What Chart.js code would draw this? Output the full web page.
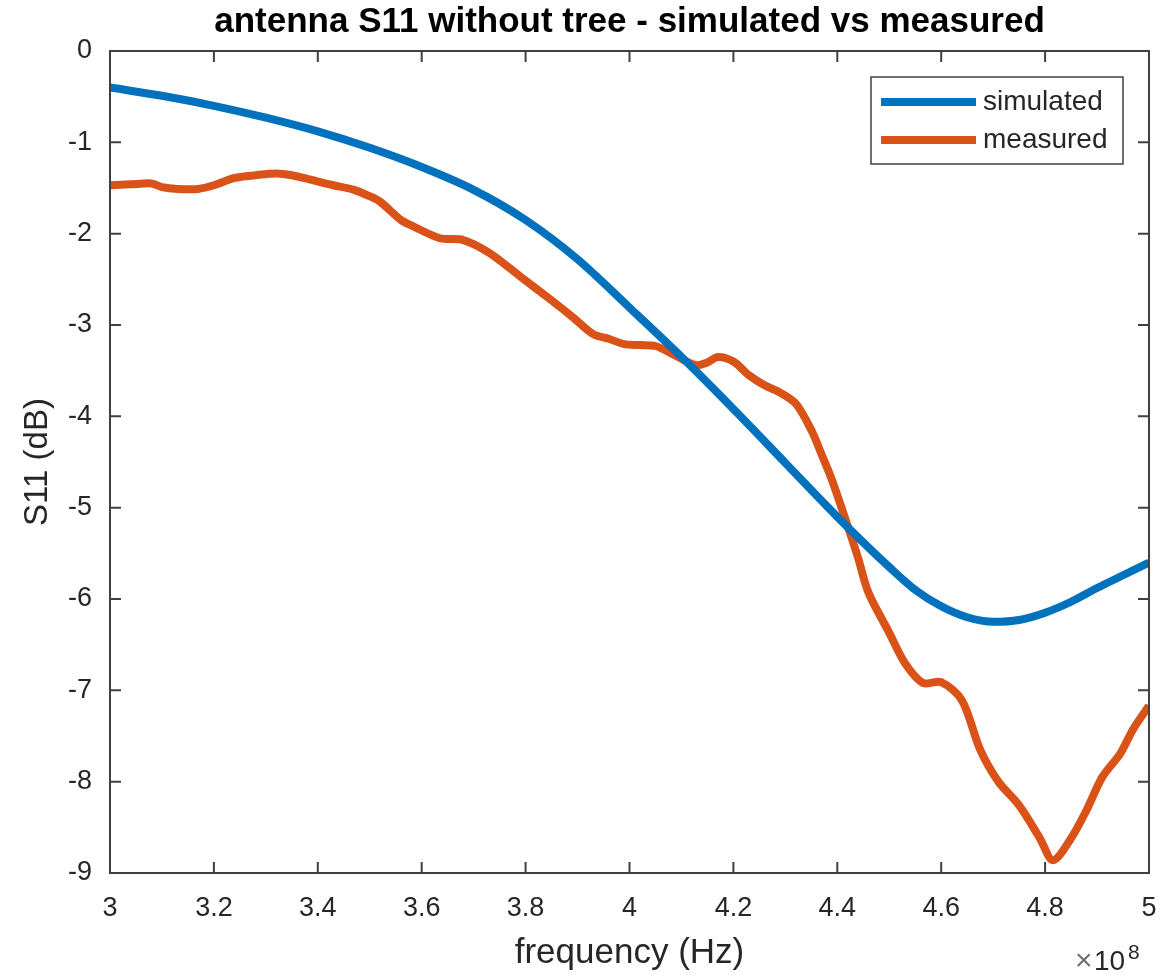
<!DOCTYPE html>
<html>
<head>
<meta charset="utf-8">
<title>antenna S11</title>
<script src="https://cdn.jsdelivr.net/npm/chart.js@4.4.0/dist/chart.umd.min.js"></script>
<style>
  html, body { margin: 0; padding: 0; background: #fff; }
  #wrap { width: 1168px; height: 977px; }
</style>
</head>
<body>
<div id="wrap"><canvas id="s11Chart" width="1168" height="977"></canvas></div>
<script>
// frequency in units of 1e8 Hz
const freqSim = [3.0, 3.1, 3.2, 3.3, 3.4, 3.5, 3.6, 3.7, 3.8, 3.9, 4.0, 4.1, 4.2, 4.3, 4.4, 4.5,
  4.55, 4.6, 4.65, 4.7, 4.75, 4.8, 4.85, 4.9, 4.95, 5.0];
const s11Sim = [-0.40, -0.49, -0.60, -0.73, -0.88, -1.06, -1.27, -1.52, -1.85, -2.28, -2.81, -3.35, -3.92, -4.51, -5.10, -5.65,
  -5.90, -6.08, -6.20, -6.25, -6.23, -6.15, -6.03, -5.88, -5.74, -5.60];

const freqMeas = [3.00, 3.04, 3.08, 3.10, 3.13, 3.17, 3.20, 3.24, 3.28, 3.32, 3.35, 3.38, 3.43, 3.47, 3.50, 3.52,
  3.56, 3.58, 3.635, 3.68, 3.73, 3.79, 3.85, 3.89, 3.93, 3.96, 3.99, 4.02, 4.05, 4.08, 4.11, 4.13,
  4.15, 4.17, 4.20, 4.23, 4.26, 4.29, 4.32, 4.35, 4.37, 4.39, 4.42, 4.44, 4.46, 4.50, 4.53, 4.565,
  4.60, 4.64, 4.675, 4.71, 4.75, 4.79, 4.815, 4.85, 4.88, 4.91, 4.945, 4.97, 5.00];
const s11Meas = [-1.47, -1.46, -1.45, -1.49, -1.51, -1.51, -1.47, -1.39, -1.36, -1.34, -1.36, -1.40, -1.47, -1.52, -1.59, -1.65,
  -1.85, -1.91, -2.05, -2.07, -2.21, -2.47, -2.73, -2.91, -3.10, -3.15, -3.21, -3.22, -3.23, -3.31, -3.40, -3.44,
  -3.41, -3.35, -3.40, -3.55, -3.66, -3.74, -3.86, -4.15, -4.42, -4.70, -5.20, -5.55, -5.93, -6.37, -6.70, -6.92,
  -6.91, -7.11, -7.65, -8.00, -8.26, -8.62, -8.86, -8.62, -8.31, -7.95, -7.69, -7.42, -7.17];

const xTicks = [3, 3.2, 3.4, 3.6, 3.8, 4, 4.2, 4.4, 4.6, 4.8, 5];
const yTicks = [0, -1, -2, -3, -4, -5, -6, -7, -8, -9];

const chartTitle = 'antenna S11 without tree - simulated vs measured';

const FONT = "'Liberation Sans', Arial, sans-serif";
const AXIS_COLOR = '#404040';
const TEXT_COLOR = '#262626';

const toPoints = (xs, ys) => xs.map((x, i) => ({x: x, y: ys[i]}));

// title, box, inward ticks, legend and exponent label in MATLAB style
const matlabAxes = {
  id: 'matlabAxes',
  afterDraw(chart) {
    const ctx = chart.ctx;
    const a = chart.chartArea;
    const xs = chart.scales.x, ys = chart.scales.y;
    const tl = 11;
    ctx.save();

    // title centred over the axes
    ctx.fillStyle = '#000';
    ctx.font = 'bold 35px ' + FONT;
    ctx.textAlign = 'center';
    ctx.textBaseline = 'middle';
    ctx.fillText(chartTitle, (a.left + a.right) / 2, 22);

    ctx.strokeStyle = AXIS_COLOR;
    ctx.lineWidth = 2;
    ctx.strokeRect(a.left, a.top, a.right - a.left, a.bottom - a.top);
    ctx.beginPath();
    xTicks.forEach(v => {
      const px = xs.getPixelForValue(v);
      ctx.moveTo(px, a.bottom); ctx.lineTo(px, a.bottom - tl);
      ctx.moveTo(px, a.top); ctx.lineTo(px, a.top + tl);
    });
    yTicks.forEach(v => {
      const py = ys.getPixelForValue(v);
      ctx.moveTo(a.left, py); ctx.lineTo(a.left + tl, py);
      ctx.moveTo(a.right, py); ctx.lineTo(a.right - tl, py);
    });
    ctx.stroke();

    // legend
    const lx = a.right - 278, ly = a.top + 26, lw = 252, lh = 87;
    ctx.fillStyle = '#fff';
    ctx.fillRect(lx, ly, lw, lh);
    ctx.lineWidth = 1.5;
    ctx.strokeStyle = AXIS_COLOR;
    ctx.strokeRect(lx, ly, lw, lh);
    chart.data.datasets.forEach((ds, i) => {
      const yy = ly + 25 + i * 38;
      ctx.strokeStyle = ds.borderColor;
      ctx.lineWidth = 8;
      ctx.beginPath();
      ctx.moveTo(lx + 10, yy); ctx.lineTo(lx + 105, yy);
      ctx.stroke();
      ctx.fillStyle = TEXT_COLOR;
      ctx.font = '28px ' + FONT;
      ctx.textBaseline = 'middle';
      ctx.textAlign = 'left';
      ctx.fillText(ds.label, lx + 112, yy);
    });

    // x10^8 exponent
    ctx.textBaseline = 'alphabetic';
    ctx.textAlign = 'left';
    ctx.fillStyle = '#707070';
    ctx.font = '30px ' + FONT;
    ctx.fillText('\u00d7', a.right - 74, 970);
    ctx.fillStyle = TEXT_COLOR;
    ctx.font = '28px ' + FONT;
    ctx.fillText('10', a.right - 55, 970);
    ctx.font = '21px ' + FONT;
    ctx.fillText('8', a.right - 21, 959);
    ctx.restore();
  }
};

new Chart(document.getElementById('s11Chart'), {
  type: 'line',
  data: {
    datasets: [
      {
        label: 'simulated',
        data: toPoints(freqSim, s11Sim),
        borderColor: '#0072BD',
        borderWidth: 8,
        pointRadius: 0,
        cubicInterpolationMode: 'monotone'
      },
      {
        label: 'measured',
        data: toPoints(freqMeas, s11Meas),
        borderColor: '#D95319',
        borderWidth: 8,
        pointRadius: 0,
        tension: 0.3
      }
    ]
  },
  options: {
    responsive: false,
    animation: false,
    layout: { padding: { left: 0, right: 19, top: 51, bottom: 0 } },
    plugins: {
      legend: { display: false },
      tooltip: { enabled: false },
      title: { display: false }
    },
    scales: {
      x: {
        type: 'linear',
        min: 3,
        max: 5,
        afterBuildTicks: s => { s.ticks = xTicks.map(v => ({value: v})); },
        afterFit: s => { s.height = 104; s.paddingLeft = 0; s.paddingRight = 0; },
        grid: { display: false, drawTicks: false },
        border: { display: false },
        ticks: {
          color: TEXT_COLOR,
          font: { family: FONT, size: 27 },
          padding: 19,
          maxRotation: 0,
          callback: v => String(Math.round(v * 10) / 10)
        },
        title: {
          display: true,
          text: 'frequency (Hz)',
          color: TEXT_COLOR,
          font: { family: FONT, size: 35 },
          padding: { top: 0, bottom: 3 }
        }
      },
      y: {
        min: -9,
        max: 0,
        afterBuildTicks: s => { s.ticks = yTicks.map(v => ({value: v})); },
        afterFit: s => { s.width = 110; },
        grid: { display: false, drawTicks: false },
        border: { display: false },
        ticks: {
          color: TEXT_COLOR,
          font: { family: FONT, size: 27 },
          padding: 18
        },
        title: {
          display: true,
          text: 'S11 (dB)',
          color: TEXT_COLOR,
          font: { family: FONT, size: 33 },
          padding: { top: 18, bottom: 0 }
        }
      }
    }
  },
  plugins: [matlabAxes]
});
</script>
</body>
</html>
